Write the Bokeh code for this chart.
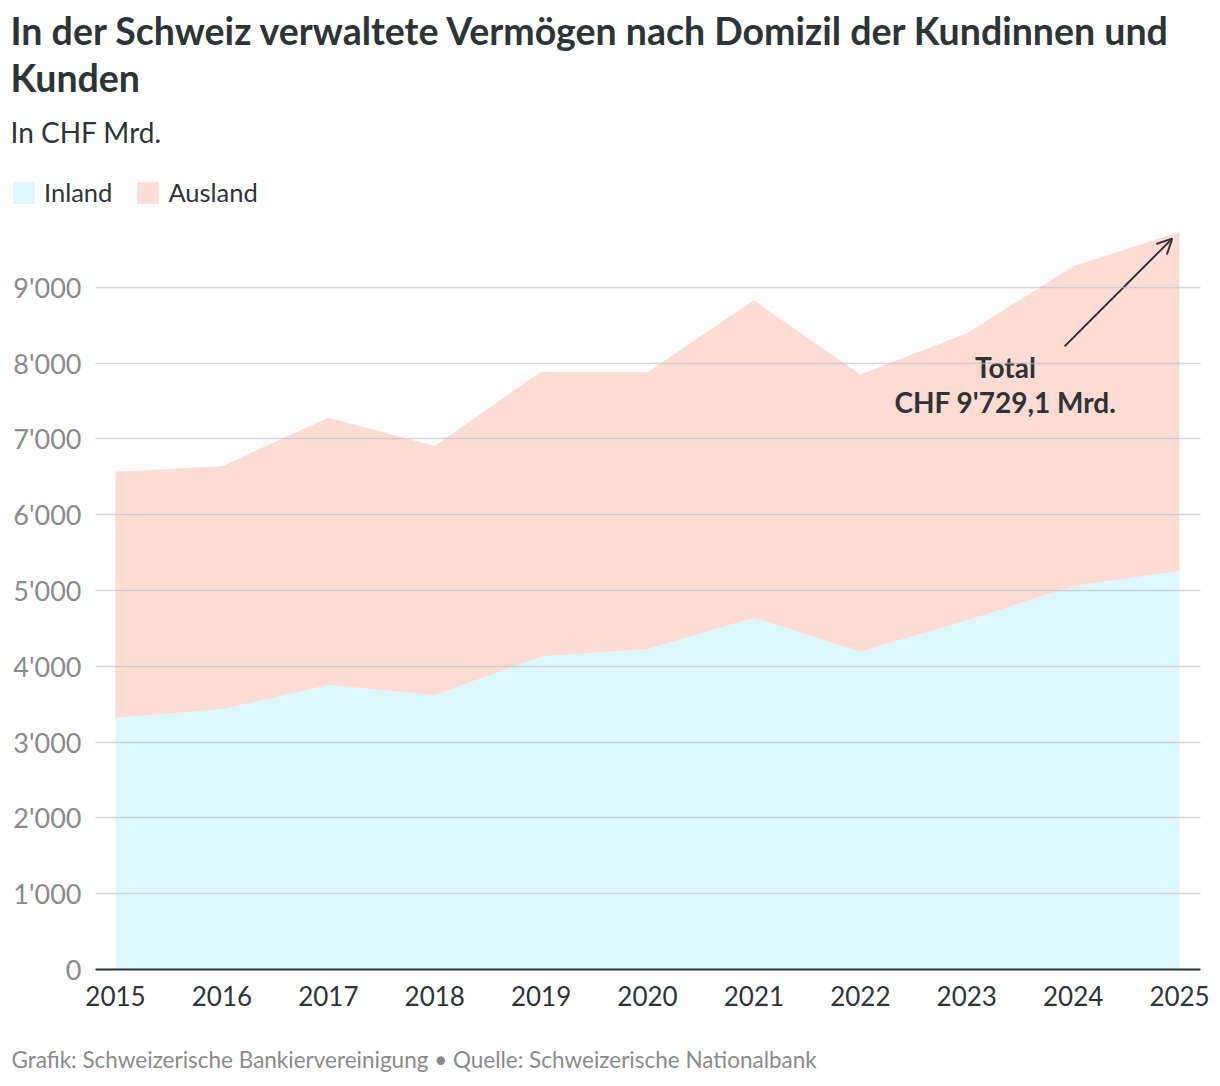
from bokeh.plotting import figure
from bokeh.models import (Range1d, FixedTicker, Label, Legend, LegendItem, Arrow,
                          OpenHead, ColumnDataSource)
from bokeh.embed import file_html
from bokeh.resources import INLINE

# ---------------- data ----------------
years = [2015, 2016, 2017, 2018, 2019, 2020, 2021, 2022, 2023, 2024, 2025]
inland = [3322, 3432, 3752, 3620, 4130, 4227, 4641, 4196, 4605, 5058, 5256]
total = [6565, 6640, 7280, 6906, 7887, 7878, 8828, 7848, 8393, 9277, 9729.1]
ausland = [t - i for t, i in zip(total, inland)]
series_names = ["Inland", "Ausland"]
y_ticks = [0, 1000, 2000, 3000, 4000, 5000, 6000, 7000, 8000, 9000]
y_tick_labels = ["0", "1'000", "2'000", "3'000", "4'000", "5'000", "6'000", "7'000", "8'000", "9'000"]
x_tick_labels = [str(y) for y in years]
title_lines = ["In der Schweiz verwaltete Vermögen nach Domizil der Kundinnen und", "Kunden"]
subtitle = "In CHF Mrd."
footer = "Grafik: Schweizerische Bankiervereinigung \u2022 Quelle: Schweizerische Nationalbank"
annotation_lines = ["Total", "CHF 9'729,1 Mrd."]

# ---------------- style ----------------
FONT = "Lato"
DARK = "#2d3436"
GREY = "#8a8a8a"
C_IN = "#dcf7fe"
C_AUS = "#fedbd3"
W = 1220
HEAD_H = 211
FOOT_H = 46
MAIN_H = 1086 - HEAD_H - FOOT_H

src = ColumnDataSource(dict(x=years, inland=inland, total=total, ausland=ausland))


def blank(height):
    f = figure(width=W, height=height, output_backend="svg", toolbar_location=None,
               x_range=Range1d(0, W), y_range=Range1d(0, height),
               x_axis_location=None, y_axis_location=None,
               min_border=0, min_border_left=0, min_border_right=0,
               min_border_top=0, min_border_bottom=0)
    f.grid.grid_line_color = None
    f.outline_line_color = None
    f.background_fill_color = "white"
    f.border_fill_color = "white"
    return f


# ---------------- header: title, subtitle, legend ----------------
head = blank(HEAD_H)
for txt, base, size, style in [(title_lines[0], 29.5, "37.5px", "bold"),
                               (title_lines[1], 77, "37.5px", "bold"),
                               (subtitle, 131, "28px", "normal")]:
    head.add_layout(Label(x=10, y=HEAD_H - base, x_units="screen", y_units="screen", text=txt,
                          text_font=FONT, text_font_style=style, text_font_size=size,
                          text_color=DARK, text_baseline="alphabetic"))

# legend swatches come from the two series (their data lie outside this panel's view)
h_in = head.varea(x="x", y1=0, y2="inland", source=src, fill_color=C_IN)
h_aus = head.varea(x="x", y1="inland", y2="total", source=src, fill_color=C_AUS)
legend = Legend(items=[LegendItem(label=series_names[0], renderers=[h_in]),
                       LegendItem(label=series_names[1], renderers=[h_aus])],
                location=(10, HEAD_H - 207.3), orientation="horizontal",
                glyph_width=27, glyph_height=27, label_standoff=7, spacing=22,
                padding=0, margin=0, border_line_color=None, background_fill_alpha=0,
                label_text_font=FONT, label_text_font_size="25.5px", label_text_color=DARK,
                label_height=27)
head.add_layout(legend, "center")

# ---------------- main chart ----------------
p = figure(width=W, height=MAIN_H, output_backend="svg", toolbar_location=None,
           x_range=Range1d(2014.812, 2025.197), y_range=Range1d(0, 10000),
           min_border_left=95, min_border_right=20, min_border_top=0,
           min_border_bottom=MAIN_H - 758)
p.outline_line_color = None
p.background_fill_color = "white"
p.border_fill_color = "white"

p.varea(x="x", y1=0, y2="inland", source=src, fill_color=C_IN)
p.varea(x="x", y1="inland", y2="total", source=src, fill_color=C_AUS)

p.xaxis.ticker = FixedTicker(ticks=years)
p.xaxis.major_label_overrides = {y: s for y, s in zip(years, x_tick_labels)}
p.xaxis.axis_line_color = DARK
p.xaxis.axis_line_width = 2
p.xaxis.major_tick_line_color = None
p.xaxis.minor_tick_line_color = None
p.xaxis.major_tick_out = 0
p.xaxis.major_label_standoff = 16
p.xaxis.major_label_text_font = FONT
p.xaxis.major_label_text_font_size = "26px"
p.xaxis.major_label_text_color = DARK

p.yaxis.ticker = FixedTicker(ticks=y_ticks)
p.yaxis.major_label_overrides = {t: s for t, s in zip(y_ticks, y_tick_labels)}
p.yaxis.axis_line_color = None
p.yaxis.major_tick_line_color = None
p.yaxis.minor_tick_line_color = None
p.yaxis.major_tick_out = 0
p.yaxis.major_label_standoff = 14
p.yaxis.major_label_text_font = FONT
p.yaxis.major_label_text_font_size = "27px"
p.yaxis.major_label_text_color = GREY

p.xgrid.grid_line_color = None
p.ygrid.ticker = FixedTicker(ticks=y_ticks[1:])
p.ygrid.grid_line_color = "#b9bfc5"
p.ygrid.grid_line_alpha = 0.65
p.ygrid.grid_line_width = 1.5
p.ygrid.level = "overlay"

# annotation (screen units: from frame left / frame bottom)
p.add_layout(Label(x=910, y=969 - 366, x_units="screen", y_units="screen", text=annotation_lines[0],
                   text_font=FONT, text_font_style="bold", text_font_size="28px",
                   text_color=DARK, text_align="center", text_baseline="alphabetic"))
p.add_layout(Label(x=910, y=969 - 401, x_units="screen", y_units="screen", text=annotation_lines[1],
                   text_font=FONT, text_font_style="bold", text_font_size="28px",
                   text_color=DARK, text_align="center", text_baseline="alphabetic"))
p.add_layout(Arrow(x_start=2023.919, y_start=8221, x_end=2024.931, y_end=9642,
                   line_color=DARK, line_width=2,
                   end=OpenHead(size=15, line_color=DARK, line_width=2)))

# ---------------- footer ----------------
foot = blank(FOOT_H)
foot.add_layout(Label(x=11, y=1086 - 1058.5, x_units="screen", y_units="screen",
                      text=footer, text_font=FONT, text_font_size="22.5px",
                      text_color=GREY, text_baseline="alphabetic"))

open("out.html", "w").write(file_html([head, p, foot], INLINE))
